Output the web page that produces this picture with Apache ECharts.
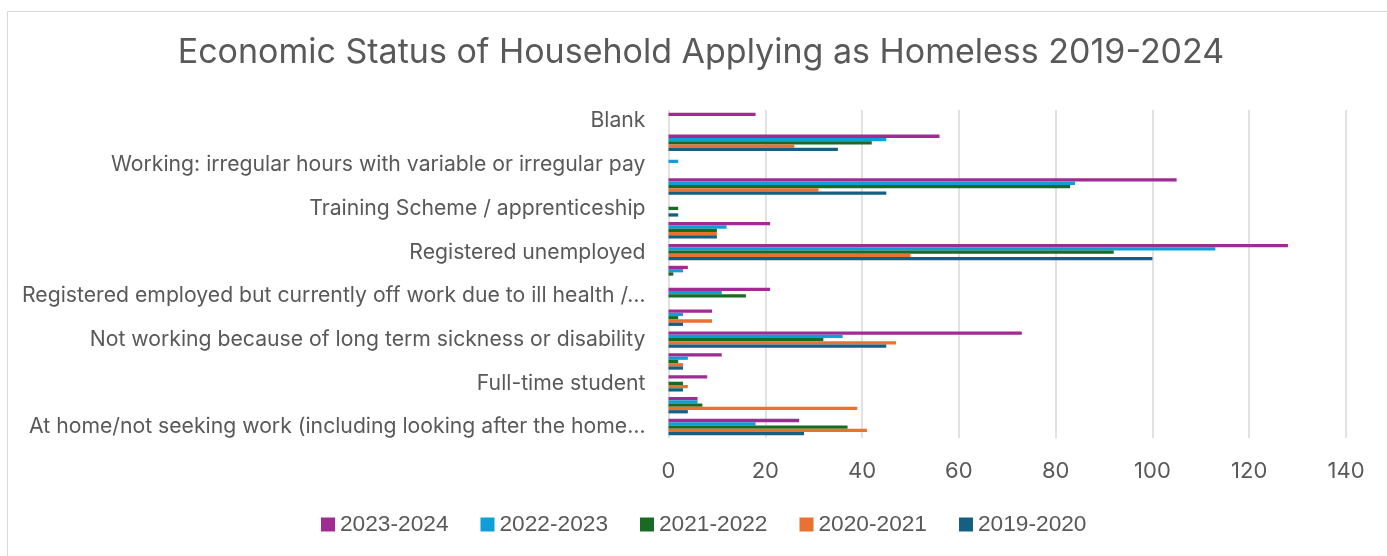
<!DOCTYPE html>
<html>
<head>
<meta charset="utf-8">
<script src="https://cdn.jsdelivr.net/npm/echarts@6/dist/echarts.min.js"></script>
<style>
  html, body { margin: 0; padding: 0; background: #ffffff; }
  #chart { width: 1387px; height: 556px; }
</style>
</head>
<body>
<div id="chart"></div>
<script>
// Economic status categories, bottom to top (only every other one gets a label)
const categories = [
  'At home/not seeking work (including looking after the home…',
  'Full-time employment',
  'Full-time student',
  'Not known / refused',
  'Not working because of long term sickness or disability',
  'Part-time employment',
  'Registered employed but currently off work due to ill health /…',
  'Registered self-employed',
  'Registered unemployed',
  'Retired',
  'Training Scheme / apprenticeship',
  'Working: full-time',
  'Working: irregular hours with variable or irregular pay',
  'Working: part-time',
  'Blank'
];

const seriesNames = ['2023-2024', '2022-2023', '2021-2022', '2020-2021', '2019-2020'];

// Household counts per year, in category order
const y2023_2024 = [27, 6, 8, 11, 73, 9, 21, 4, 128, 21, 0, 105, 0, 56, 18];
const y2022_2023 = [18, 6, 0, 4, 36, 3, 11, 3, 113, 12, 0, 84, 2, 45, 0];
const y2021_2022 = [37, 7, 3, 2, 32, 2, 16, 1, 92, 10, 2, 83, 0, 42, 0];
const y2020_2021 = [41, 39, 4, 3, 47, 9, 0, 0, 50, 10, 0, 31, 0, 26, 0];
const y2019_2020 = [28, 4, 3, 3, 45, 3, 0, 0, 100, 10, 2, 45, 0, 35, 0];

const xTicks = { min: 0, max: 140, interval: 20 };

const colors = ['#A02B93', '#0F9ED5', '#196B24', '#E97132', '#156082'];
const values = [y2023_2024, y2022_2023, y2021_2022, y2020_2021, y2019_2020];

const textColor = '#595959';
const uiFont = 'Inter';

const chart = echarts.init(document.getElementById('chart'), null, { renderer: 'canvas' });

chart.setOption({
  animation: false,
  backgroundColor: '#ffffff',
  color: colors,
  graphic: [{
    type: 'rect',
    shape: { x: 7.5, y: 11.5, width: 1420, height: 600 },
    style: { fill: 'none', stroke: '#D9D9D9', lineWidth: 1 },
    silent: true,
    z: -1
  }],
  title: {
    text: 'Economic Status of Household Applying as Homeless 2019-2024',
    left: 701,
    textAlign: 'center',
    top: 36,
    padding: 0,
    textStyle: { color: textColor, fontFamily: uiFont, fontSize: 34, fontWeight: 'normal' }
  },
  legend: {
    data: seriesNames,
    left: 321,
    top: 513,
    padding: 0,
    icon: 'rect',
    itemWidth: 14,
    itemHeight: 14,
    itemGap: 32,
    textStyle: { color: textColor, fontFamily: 'Liberation Sans', fontSize: 22.7 }
  },
  grid: { left: 668.5, right: 41, top: 110, bottom: 118 },
  xAxis: {
    type: 'value',
    min: xTicks.min,
    max: xTicks.max,
    interval: xTicks.interval,
    axisLine: { show: false },
    axisTick: { show: false },
    splitLine: { show: true, lineStyle: { color: '#D9D9D9', width: 1.5 } },
    axisLabel: { color: textColor, fontFamily: uiFont, fontSize: 22, margin: 22 }
  },
  yAxis: {
    type: 'category',
    data: categories,
    axisLine: { show: false },
    axisTick: { show: false },
    axisLabel: {
      interval: 1,
      color: textColor,
      fontFamily: uiFont,
      fontSize: 21.2,
      margin: 23
    }
  },
  series: seriesNames.map((name, i) => ({
    name: name,
    type: 'bar',
    data: values[i],
    barGap: '0%',
    barCategoryGap: '25%',
    itemStyle: { color: colors[i] }
  }))
});
</script>
</body>
</html>
